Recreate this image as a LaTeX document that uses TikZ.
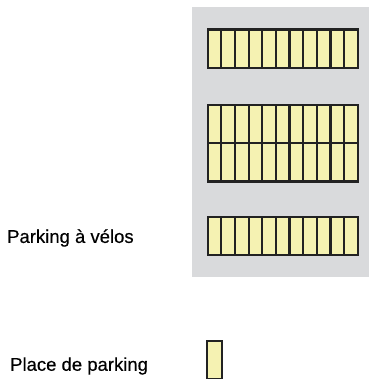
\documentclass[tikz,border=0pt]{standalone}
\usepackage{fontspec}
\setmainfont{Liberation Sans}
\newfontfamily\lblfont[FakeBold=0.4]{Liberation Sans}
\definecolor{lotgrey}{HTML}{D9DADC}
\definecolor{slotfill}{HTML}{F5F2B2}
\definecolor{slotline}{HTML}{222222}
\begin{document}
\begin{tikzpicture}[x=1pt,y=-1pt,
  slotbox/.style={draw=slotline,fill=slotfill,line width=2.2pt},
  lbl/.style={anchor=west,inner sep=0pt,font=\lblfont\fontsize{18.5}{22}\selectfont}]
\useasboundingbox (0,0) rectangle (369,379);
\fill[lotgrey] (192,7) rectangle (369,277);
\foreach \y in {29.5,105,143,216.7}{
  \foreach \i in {0,...,10}{
    \draw[slotbox] ({207.7+\i*13.636},\y) rectangle ++(13.636,38.5);
  }
}
\node[slotbox,minimum width=15pt,minimum height=38pt,inner sep=0pt,anchor=north west] (icon) at (206,339.5) {};
\node[lbl] (velos) at (7,238) {Parking à vélos};
\node[lbl] (place) at (10,366) {Place de parking};
\end{tikzpicture}
\end{document}
